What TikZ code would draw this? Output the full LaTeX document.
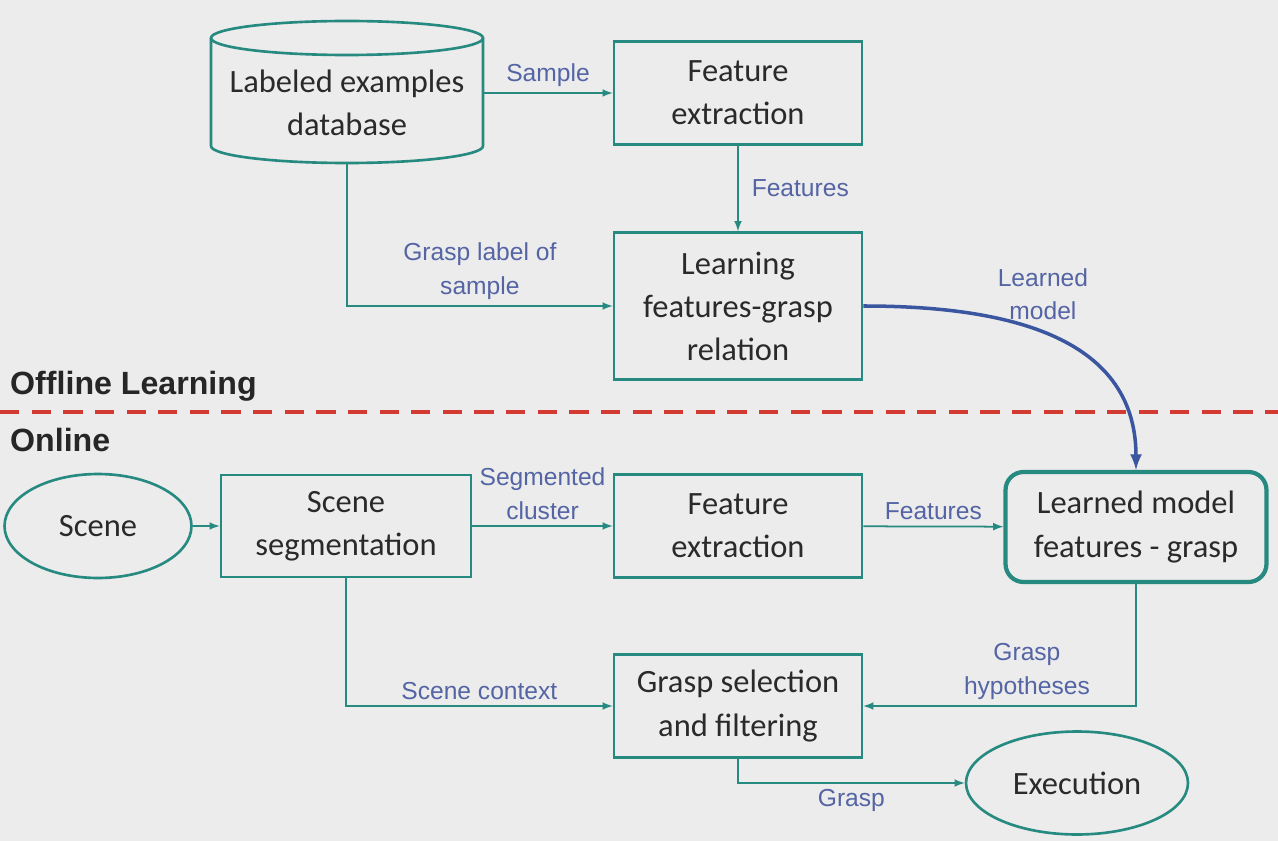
\documentclass[tikz,border=0pt]{standalone}
\usepackage{fontspec}
\setmainfont{Carlito}
\newfontfamily\labelfont{Liberation Sans}
\usetikzlibrary{shapes.geometric,arrows}
\usepackage{xcolor}
\definecolor{bgcol}{HTML}{ECECEC}
\definecolor{tealcol}{HTML}{268A80}
\definecolor{labcol}{HTML}{5464A4}
\definecolor{curvecol}{HTML}{3A56A0}
\definecolor{cutcol}{HTML}{D23A32}
\definecolor{txtcol}{HTML}{2A2A2A}

\tikzset{
  nodetext/.style={align=center, text=txtcol, font=\fontsize{18.5}{24.5}\selectfont},
  procbox/.style={nodetext, draw=tealcol, line width=1.5pt, minimum width=4.96cm, minimum height=2.06cm,
    inner sep=0pt},
  termellipse/.style={procbox, ellipse},
  dboutline/.style={draw=tealcol, line width=1.5pt},
  modelbox/.style={procbox, rounded corners=0.36cm, line width=2.4pt},
  flow/.style={draw=tealcol, line width=1pt, ->},
  flowlabel/.style={text=labcol, align=center, font=\labelfont\fontsize{14}{19}\selectfont},
  learnarrow/.style={draw=curvecol, line width=2pt, ->},
  parttitle/.style={anchor=west, text=black!85, font=\labelfont\bfseries\fontsize{18.3}{22}\selectfont}
}

\begin{document}
\begin{tikzpicture}[x=0.02cm,y=-0.02cm,>=latex]
  \fill[bgcol] (0,0) rectangle (1278,841);
  \useasboundingbox (0,0) rectangle (1278,841);
  % offline part
  \node[nodetext, inner sep=0pt, minimum width=5.44cm, minimum height=2.4cm] (db) at (347,103)
    {Labeled examples\\database};
  \draw[dboutline] (347,38) ellipse[x radius=136, y radius=17];
  \draw[dboutline] (211,38) -- (211,146) arc[start angle=180, end angle=0, x radius=136, y radius=17] -- (483,38);
  \node[procbox] (fe1) at (738,93) {Feature\\extraction};
  \node[procbox, minimum height=2.94cm] (learn) at (738,306) {Learning\\features-grasp\\relation};
  % separation
  \draw[cutcol, line width=2.2pt, dash pattern=on 11pt off 7pt] (0,412) -- (1278,412);
  \node[parttitle] (off) at (4,386) {Offline Learning};
  \node[parttitle] (on) at (4,440) {Online};
  % online part
  \node[termellipse, minimum width=3.74cm, minimum height=2.08cm] (scene) at (98,526) {Scene};
  \node[procbox, minimum width=5cm, minimum height=2.04cm] (seg) at (346,526) {Scene\\segmentation};
  \node[procbox] (fe2) at (738,526) {Feature\\extraction};
  \node[modelbox, minimum width=5.22cm, minimum height=2.2cm] (model) at (1136,527) {Learned model\\features - grasp};
  \node[procbox] (sel) at (738,706) {Grasp selection\\and filtering};
  \node[termellipse, minimum width=4.44cm, minimum height=2.06cm] (exec) at (1077,783) {Execution};

  \draw[flow] (db.east |- fe1.west) -- node[flowlabel, above]{Sample} (fe1.west);
  \draw[flow] (fe1) -- node[flowlabel, right, xshift=4pt]{Features} (learn);
  \draw[flow] (db.south) |- node[flowlabel, pos=0.75, above]{Grasp label of\\sample} (learn.west);
  \draw[learnarrow] (learn.east) to[out=0, in=90, looseness=1.1]
    node[flowlabel, pos=0.4, above, xshift=14pt, yshift=-2pt]{Learned\\model} (model.north);
  \draw[flow] (scene) -- (seg);
  \draw[flow] (seg) -- node[flowlabel, above]{Segmented\\cluster} (fe2);
  \draw[flow] (fe2) -- node[flowlabel, above]{Features} (model);
  \draw[flow] (seg.south) |- node[flowlabel, pos=0.75, above]{Scene context} (sel.west);
  \draw[flow] (model.south) |- node[flowlabel, pos=0.7, above]{Grasp\\hypotheses} (sel.east);
  \draw[flow] (sel.south) |- node[flowlabel, pos=0.75, below]{Grasp} (exec.west);
\end{tikzpicture}
\end{document}
